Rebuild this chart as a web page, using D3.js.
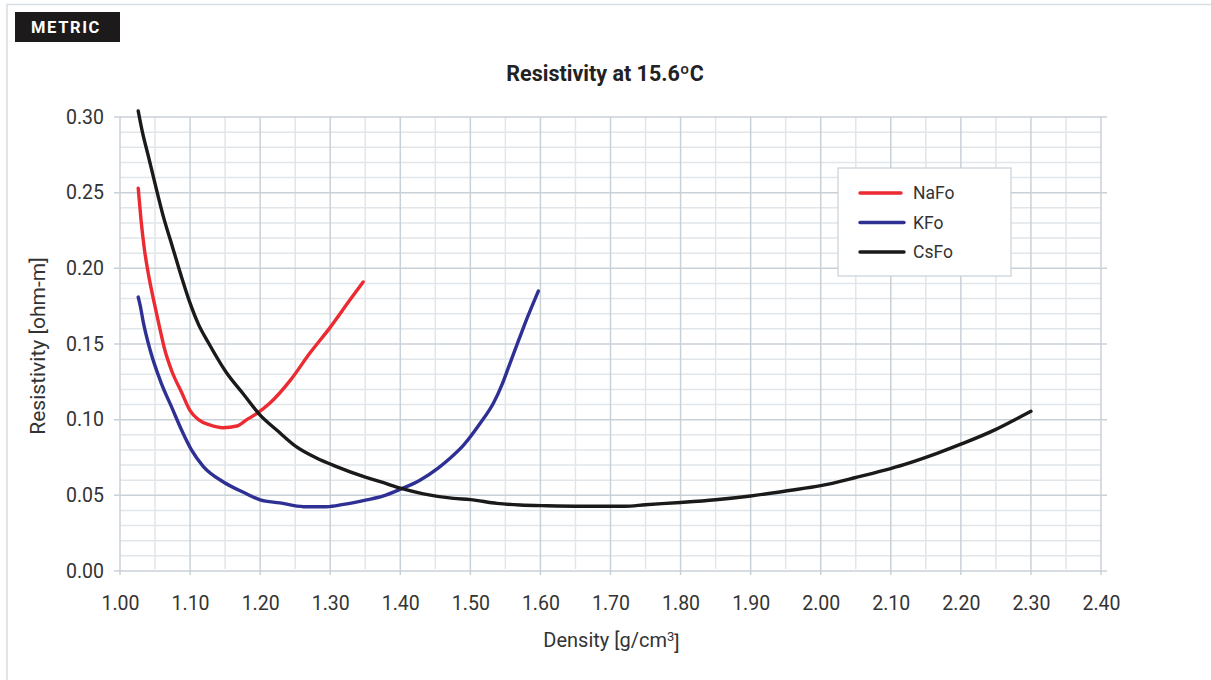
<!DOCTYPE html>
<html>
<head>
<meta charset="utf-8">
<script src="https://cdn.jsdelivr.net/npm/d3@7"></script>
<style>
  body { margin: 0; background: #fff; }
  svg { font-family: Roboto, "Noto Sans", sans-serif; }
</style>
</head>
<body>
<div id="chart"></div>
<script>
// density [g/cm3], resistivity [ohm-m]
const nafo = [
  [1.026, 0.253], [1.030, 0.232], [1.035, 0.212], [1.041, 0.195], [1.048, 0.179],
  [1.056, 0.162], [1.064, 0.146], [1.074, 0.132], [1.088, 0.118], [1.100, 0.106],
  [1.112, 0.100], [1.128, 0.0965], [1.147, 0.0947], [1.167, 0.0958], [1.181, 0.100],
  [1.195, 0.104], [1.214, 0.111], [1.243, 0.126], [1.271, 0.144], [1.300, 0.161],
  [1.328, 0.179], [1.347, 0.191]
];
const kfo = [
  [1.026, 0.181], [1.029, 0.175], [1.033, 0.165], [1.043, 0.146], [1.059, 0.124],
  [1.074, 0.108], [1.088, 0.093], [1.102, 0.080], [1.119, 0.069], [1.147, 0.059],
  [1.176, 0.052], [1.200, 0.047], [1.228, 0.045], [1.262, 0.0425], [1.295, 0.0425],
  [1.319, 0.044], [1.352, 0.047], [1.375, 0.0495], [1.400, 0.054], [1.428, 0.060],
  [1.454, 0.068], [1.471, 0.0745], [1.490, 0.083], [1.514, 0.0976], [1.533, 0.111],
  [1.545, 0.123], [1.554, 0.134], [1.562, 0.144], [1.571, 0.155], [1.580, 0.166],
  [1.588, 0.175], [1.597, 0.185]
];
const csfo = [
  [1.026, 0.304], [1.032, 0.290], [1.040, 0.275], [1.050, 0.256], [1.062, 0.234],
  [1.075, 0.214], [1.088, 0.194], [1.100, 0.177], [1.112, 0.163], [1.126, 0.151],
  [1.152, 0.131], [1.176, 0.117], [1.200, 0.103], [1.224, 0.093], [1.252, 0.082],
  [1.281, 0.0745], [1.309, 0.069], [1.347, 0.0625], [1.375, 0.0585], [1.400, 0.0547],
  [1.433, 0.051], [1.476, 0.048], [1.500, 0.0472], [1.538, 0.0447], [1.571, 0.0436],
  [1.609, 0.0431], [1.660, 0.0428], [1.720, 0.0428], [1.750, 0.0438], [1.800, 0.0453],
  [1.850, 0.0471], [1.900, 0.0496], [1.955, 0.0532], [2.000, 0.0564], [2.050, 0.0618],
  [2.090, 0.0665], [2.120, 0.0705], [2.165, 0.0776], [2.200, 0.0838], [2.250, 0.0936],
  [2.275, 0.0995], [2.300, 0.1055]
];
const seriesNames = ["NaFo", "KFo", "CsFo"];
const seriesColors = ["#ec2a31", "#2e3193", "#1b1a1a"];
const xTicks = d3.range(10, 25).map(d => d / 10);           // 1.00 .. 2.40
const yTicks = d3.range(0, 7).map(d => d * 0.05);           // 0.00 .. 0.30

const W = 1211, H = 680;
const margin = { top: 117, right: 110, bottom: 109, left: 120 };
const width = W - margin.left - margin.right;
const height = H - margin.top - margin.bottom;

const svg = d3.select("#chart").append("svg")
    .attr("width", W)
    .attr("height", H);

// outer frame
svg.append("path")
    .attr("d", `M7,${H} V4.5 H${W}`)
    .attr("fill", "none")
    .attr("stroke", "#d6dde3")
    .attr("stroke-width", 1.5);

// METRIC badge
svg.append("rect")
    .attr("x", 15).attr("y", 12)
    .attr("width", 105).attr("height", 30)
    .attr("fill", "#1c1a1a");
svg.append("text")
    .attr("x", 66).attr("y", 33)
    .attr("text-anchor", "middle")
    .attr("fill", "#fff")
    .style("font-size", "16.5px")
    .style("font-weight", 700)
    .style("letter-spacing", "1.6px")
    .text("METRIC");

// title
svg.append("text")
    .attr("x", 605).attr("y", 81)
    .attr("text-anchor", "middle")
    .attr("fill", "#222")
    .style("font-size", "21.5px")
    .style("font-weight", 700)
    .text("Resistivity at 15.6ºC");

const g = svg.append("g")
    .attr("transform", `translate(${margin.left},${margin.top})`);

const x = d3.scaleLinear().domain([1.0, 2.4]).range([0, width]);
const y = d3.scaleLinear().domain([0, 0.30]).range([height, 0]);

// grid: minor lines first
const xMinor = d3.range(10, 24).map(d => d / 10 + 0.05);
const yMinor = d3.range(0, 30).map(d => d / 100).filter(d => Math.round(d * 100) % 5 !== 0);

g.selectAll(".hminor").data(yMinor).join("line")
    .attr("x1", 0).attr("x2", width)
    .attr("y1", d => y(d)).attr("y2", d => y(d))
    .attr("stroke", "#e1e6ea").attr("stroke-width", 1.5);
g.selectAll(".vminor").data(xMinor).join("line")
    .attr("x1", d => x(d)).attr("x2", d => x(d))
    .attr("y1", 0).attr("y2", height - 2)
    .attr("stroke", "#e1e6ea").attr("stroke-width", 1.5);
g.selectAll(".vmajor").data(xTicks).join("line")
    .attr("x1", d => x(d)).attr("x2", d => x(d))
    .attr("y1", 0).attr("y2", height + 4)
    .attr("stroke", "#c9d1d8").attr("stroke-width", 1.5);
g.selectAll(".hmajor").data(yTicks).join("line")
    .attr("x1", -6).attr("x2", width + 6)
    .attr("y1", d => y(d)).attr("y2", d => y(d))
    .attr("stroke", "#c9d1d8").attr("stroke-width", 1.5);

// axes labels (lines drawn by the grid above)
const xAxis = g.append("g")
    .attr("transform", `translate(0,${height})`)
    .call(d3.axisBottom(x).tickValues(xTicks).tickFormat(d3.format(".2f")).tickSize(0).tickPadding(25));
const yAxis = g.append("g")
    .call(d3.axisLeft(y).tickValues(yTicks).tickFormat(d3.format(".2f")).tickSize(0).tickPadding(16));
[xAxis, yAxis].forEach(a => {
  a.select(".domain").remove();
  a.selectAll("text")
      .attr("fill", "#333")
      .style("font-size", "19.5px")
      .style("font-family", "Roboto, sans-serif");
});

// axis titles
const xTitle = g.append("text")
    .attr("x", width / 2 + 1).attr("y", height + 76)
    .attr("text-anchor", "middle")
    .attr("fill", "#333")
    .style("font-size", "20px")
    .text("Density [g/cm");
xTitle.append("tspan").attr("dy", "-0.45em").style("font-size", "13px").text("3");
xTitle.append("tspan").attr("dy", "0.45em").text("]");

g.append("text")
    .attr("transform", "rotate(-90)")
    .attr("x", -height / 2 - 2).attr("y", -75)
    .attr("text-anchor", "middle")
    .attr("fill", "#333")
    .style("font-size", "21px")
    .text("Resistivity [ohm-m]");

// lines
const line = d3.line()
    .x(d => x(d[0]))
    .y(d => y(d[1]))
    .curve(d3.curveMonotoneX);

[nafo, kfo, csfo].forEach((s, i) => {
  g.append("path")
      .datum(s)
      .attr("d", line)
      .attr("fill", "none")
      .attr("stroke", seriesColors[i])
      .attr("stroke-width", 3.4)
      .attr("stroke-linecap", "round")
      .attr("stroke-linejoin", "round");
});

// legend
const legend = svg.append("g").attr("transform", "translate(838,168)");
legend.append("rect")
    .attr("width", 173).attr("height", 108)
    .attr("fill", "#fff")
    .attr("stroke", "#c9d1d8").attr("stroke-width", 1.2);
seriesNames.forEach((name, i) => {
  const ly = 25 + i * 29.5;
  legend.append("line")
      .attr("x1", 22).attr("x2", i === 0 ? 63 : 66)
      .attr("y1", ly).attr("y2", ly)
      .attr("stroke", seriesColors[i])
      .attr("stroke-width", 3.4)
      .attr("stroke-linecap", "round");
  legend.append("text")
      .attr("x", 75).attr("y", ly)
      .attr("dy", "0.35em")
      .attr("fill", "#333")
      .style("font-size", "17.5px")
      .text(name);
});
</script>
</body>
</html>
